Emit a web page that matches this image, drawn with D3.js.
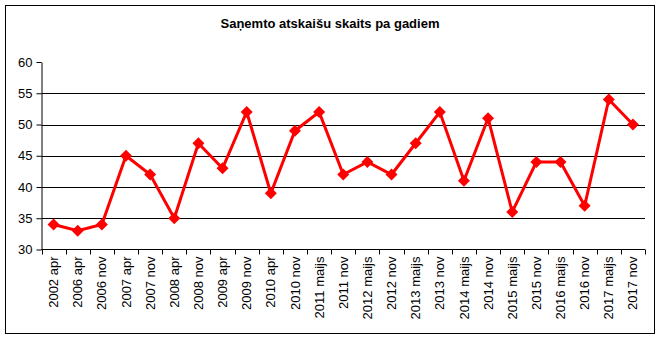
<!DOCTYPE html>
<html><head><meta charset="utf-8">
<script src="https://cdn.jsdelivr.net/npm/d3@7"></script>
<style>body{margin:0;background:#fff}svg{display:block}</style>
</head><body>
<script>
const categories = ["2002 apr","2006 apr","2006 nov","2007 apr","2007 nov","2008 apr","2008 nov","2009 apr","2009 nov","2010 apr","2010 nov","2011 maijs","2011 nov","2012 maijs","2012 nov","2013 maijs","2013 nov","2014 maijs","2014 nov","2015 maijs","2015 nov","2016 maijs","2016 nov","2017 maijs","2017 nov"];
const values = [34,33,34,45,42,35,47,43,52,39,49,52,42,44,42,47,52,41,51,36,44,44,37,54,50];
const yTicks = [30,35,40,45,50,55,60];
const title = "Saņemto atskaišu skaits pa gadiem";

const W = 661, H = 339;
const svg = d3.select("body").append("svg").attr("width", W).attr("height", H);
const font = "'Liberation Sans', Arial, sans-serif";

svg.append("rect").attr("x",5.5).attr("y",5.5).attr("width",649).attr("height",328)
  .attr("fill","#fff").attr("stroke","#000").attr("stroke-width",1);

svg.append("text").attr("x",330).attr("y",28).attr("text-anchor","middle")
  .attr("font-family",font).attr("font-weight","bold").attr("font-size",13).text(title);

const x = d3.scaleBand().domain(categories).range([41.5,645]);
const y = d3.scaleLinear().domain([30,60]).range([249.5,62]);

// gridlines
svg.append("g").selectAll("line").data(yTicks.filter(d=>d>30 && d<60)).join("line")
  .attr("x1",41.5).attr("x2",645).attr("y1",d=>Math.round(y(d))+0.5).attr("y2",d=>Math.round(y(d))+0.5)
  .attr("stroke","#000").attr("stroke-width",1);

const yAxis = svg.append("g").attr("transform","translate(41.5,0)")
  .call(d3.axisLeft(y).tickValues(yTicks).tickSize(5).tickPadding(4).tickSizeOuter(0));
yAxis.selectAll("text").attr("font-family",font).attr("font-size",13).attr("fill","#000");
yAxis.selectAll("line,path").attr("stroke","#000");

const xAxis = svg.append("g").attr("transform","translate(0,249.5)")
  .call(d3.axisBottom(x).tickSize(0).tickSizeOuter(0));
xAxis.select("path").attr("stroke","#000").attr("d","M41.5,0H645");
// tick marks at band boundaries
xAxis.append("g").selectAll("line").data(d3.range(categories.length+1)).join("line")
  .attr("x1",i=>Math.round(41.5 + i*x.step())+0.5).attr("x2",i=>Math.round(41.5 + i*x.step())+0.5)
  .attr("y1",0).attr("y2",5).attr("stroke","#000");
xAxis.selectAll(".tick text").attr("font-family",font).attr("font-size",13).attr("fill","#000")
  .attr("transform","translate(0,7) rotate(-90)").attr("text-anchor","end")
  .attr("x",0).attr("y",0).attr("dy","0.35em");

const cx = d => x(d) + x.bandwidth()/2;
const line = d3.line().x((d,i)=>cx(categories[i])).y(d=>y(d));
svg.append("path").datum(values).attr("d",line).attr("fill","none")
  .attr("stroke","#ff0000").attr("stroke-width",3).attr("stroke-linejoin","miter");

svg.append("g").selectAll("path").data(values).join("path")
  .attr("transform",(d,i)=>`translate(${cx(categories[i])},${y(d)})`)
  .attr("d","M0,-6L6,0L0,6L-6,0Z").attr("fill","#ff0000");
</script>
</body></html>
